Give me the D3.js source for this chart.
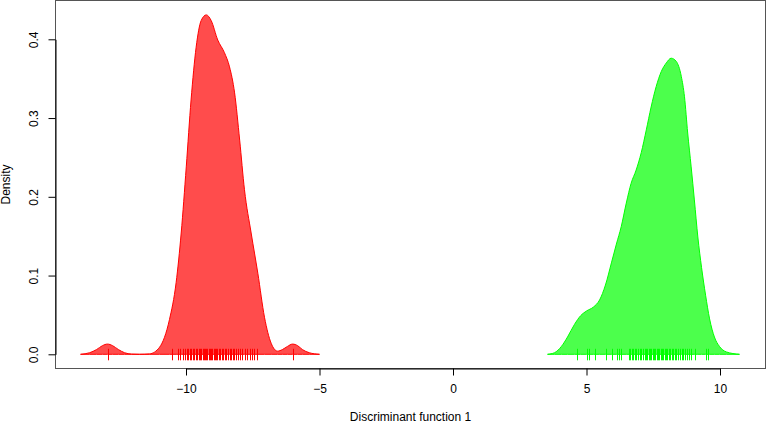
<!DOCTYPE html>
<html>
<head>
<meta charset="utf-8">
<script src="https://cdn.jsdelivr.net/npm/d3@7"></script>
<style>
  body { margin: 0; background: #fff; }
  text { font-family: "Liberation Sans", Arial, sans-serif; }
</style>
</head>
<body>
<div id="chart-area"></div>
<script>
// Density curves (discriminant score, density)
const redX = [-13.95, -13.61, -13.35, -13.13, -12.94, -12.75, -12.53, -12.30, -12.04, -11.74, -11.37,
  -10.99, -10.62, -10.37, -10.18, -9.99, -9.81, -9.62, -9.43, -9.24, -9.06, -8.81, -8.56, -8.37,
  -8.18, -7.99, -7.81, -7.56, -7.31, -7.06, -6.81, -6.57, -6.39, -6.20, -6.01, -5.82, -5.64, -5.38, -5.00];
const redY = [0, 0.002, 0.006, 0.011, 0.013, 0.011, 0.006, 0.002, 0.0003, 0, 0.0005,
  0.009, 0.044, 0.091, 0.154, 0.238, 0.323, 0.390, 0.424, 0.431, 0.424, 0.399, 0.383, 0.365,
  0.332, 0.272, 0.209, 0.154, 0.103, 0.047, 0.014, 0.004, 0.006, 0.010, 0.013, 0.011, 0.006, 0.002, 0];

const greenX = [3.54, 3.80, 4.06, 4.29, 4.55, 4.78, 5.00, 5.26, 5.49, 5.71, 5.94, 6.12, 6.30, 6.49,
  6.67, 6.86, 7.05, 7.24, 7.42, 7.61, 7.80, 7.99, 8.17, 8.36, 8.55, 8.67, 8.79, 8.92, 9.04, 9.17,
  9.31, 9.46, 9.61, 9.79, 9.98, 10.24, 10.73];
const greenY = [0, 0.002, 0.010, 0.022, 0.038, 0.049, 0.055, 0.060, 0.069, 0.088, 0.117, 0.140, 0.162, 0.192,
  0.217, 0.234, 0.256, 0.285, 0.314, 0.340, 0.359, 0.370, 0.376, 0.372, 0.353, 0.327, 0.281, 0.238, 0.196, 0.149,
  0.110, 0.075, 0.045, 0.022, 0.010, 0.003, 0];

// Rug: individual scores
const redRug = [-12.93, -10.54, -10.30, -10.22, -10.13, -10.05, -9.98, -9.92, -9.85, -9.80, -9.74, -9.69,
  -9.63, -9.58, -9.52, -9.47, -9.43, -9.38, -9.33, -9.29, -9.24, -9.20, -9.15, -9.11, -9.06, -9.02,
  -8.97, -8.92, -8.88, -8.83, -8.78, -8.72, -8.66, -8.60, -8.55, -8.49, -8.43, -8.37, -8.31, -8.25,
  -8.19, -8.12, -8.05, -7.98, -7.90, -7.80, -7.72, -7.62, -7.52, -7.44, -7.35, -6.00];
const greenRug = [4.66, 5.00, 5.10, 5.32, 5.73, 5.96, 6.14, 6.23, 6.29, 6.58, 6.63, 6.70, 6.76, 6.80,
  6.86, 6.92, 6.99, 7.05, 7.12, 7.18, 7.23, 7.28, 7.33, 7.38, 7.43, 7.48, 7.53, 7.58, 7.63, 7.68,
  7.73, 7.78, 7.83, 7.88, 7.93, 7.98, 8.03, 8.08, 8.13, 8.19, 8.25, 8.31, 8.37, 8.43, 8.50, 8.56,
  8.63, 8.70, 8.78, 8.85, 8.92, 9.06, 9.48, 9.55];

const xTicks = [-10, -5, 0, 5, 10];
const yTicks = [0, 0.1, 0.2, 0.3, 0.4];

// Canvas
const W = 767, H = 423;
const box = {left: 55.5, right: 765.5, top: 0.5, bottom: 368.5};

const svg = d3.select("#chart-area")
  .append("svg")
  .attr("width", W)
  .attr("height", H);

const xScale = d3.scaleLinear().domain([-10, 10]).range([186, 720]);
const yScale = d3.scaleLinear().domain([0, 0.4]).range([354.3, 39.3]);

// Density polygons
const area = d3.area()
  .x(d => xScale(d[0]))
  .y0(yScale(0))
  .y1(d => yScale(d[1]))
  .curve(d3.curveMonotoneX);

function drawDensity(xs, ys, col) {
  const pts = xs.map((x, i) => [x, ys[i]]);
  svg.append("path")
    .datum(pts)
    .attr("d", area)
    .attr("fill", col)
    .attr("fill-opacity", 0.7)
    .attr("stroke", col)
    .attr("stroke-width", 1);
}
drawDensity(redX, redY, "#ff0000");
drawDensity(greenX, greenY, "#00ff00");

// Rugs
function drawRug(vals, col) {
  svg.append("g").selectAll("line")
    .data(vals)
    .enter().append("line")
    .attr("x1", d => Math.round(xScale(d)) + 0.5)
    .attr("x2", d => Math.round(xScale(d)) + 0.5)
    .attr("y1", yScale(0) - 5.5)
    .attr("y2", yScale(0) + 6)
    .attr("stroke", col)
    .attr("stroke-width", 1);
}
drawRug(redRug, "#ff0000");
drawRug(greenRug, "#00ff00");

// Box
svg.append("rect")
  .attr("x", box.left)
  .attr("y", box.top)
  .attr("width", box.right - box.left)
  .attr("height", box.bottom - box.top)
  .attr("fill", "none")
  .attr("stroke", "#555")
  .attr("stroke-width", 1);

// X axis
const xAxisCall = d3.axisBottom(xScale)
  .tickValues(xTicks)
  .tickSize(7)
  .tickSizeOuter(0)
  .tickPadding(9)
  .tickFormat(d3.format("d"));
const xAxis = svg.append("g")
  .attr("transform", "translate(0," + box.bottom + ")")
  .call(xAxisCall);

// Y axis
const yAxisCall = d3.axisLeft(yScale)
  .tickValues(yTicks)
  .tickSize(7)
  .tickSizeOuter(0)
  .tickFormat(d3.format(".1f"));
const yAxis = svg.append("g")
  .attr("transform", "translate(" + box.left + ",0)")
  .call(yAxisCall);
yAxis.selectAll(".tick text")
  .attr("x", null).attr("dy", null)
  .attr("text-anchor", "middle")
  .attr("transform", "translate(-18,0) rotate(-90)");

[xAxis, yAxis].forEach(ax => {
  ax.selectAll("text").attr("font-size", "12px").attr("fill", "#000")
    .attr("font-family", "'Liberation Sans', Arial, sans-serif");
  ax.selectAll("line, path").attr("stroke", "#000");
});

// Labels
svg.append("text")
  .attr("x", (box.left + box.right) / 2)
  .attr("y", 421)
  .attr("font-size", "12px")
  .attr("text-anchor", "middle")
  .text("Discriminant function 1");
svg.append("text")
  .attr("transform", "translate(10," + (box.top + box.bottom) / 2 + ") rotate(-90)")
  .attr("font-size", "12px")
  .attr("text-anchor", "middle")
  .text("Density");
</script>
</body>
</html>
